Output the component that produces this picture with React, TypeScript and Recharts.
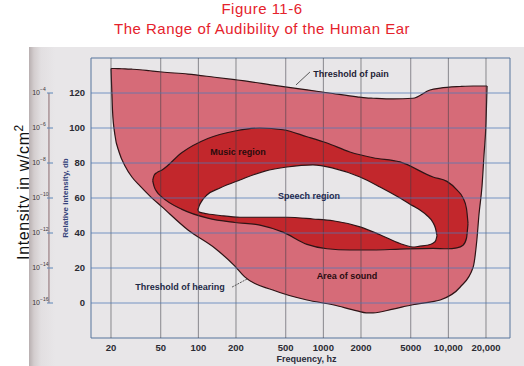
import React from 'react';
import { ComposedChart, Area, XAxis, YAxis, ReferenceLine, ReferenceArea, ReferenceDot } from 'recharts';

// axis ticks
const freqTicks = [20, 50, 100, 200, 500, 1000, 2000, 5000, 10000, 20000];
const dbTicks = [0, 20, 40, 60, 80, 100, 120];
const intensityExp = [-16, -14, -12, -10, -8, -6, -4];

// area of sound: threshold of hearing (low) .. threshold of pain (high)
const soundFreq = [20, 20.56, 21.5, 23.2, 25.9, 29.4, 34.1, 41, 51.2, 82.6, 135, 196, 235, 394, 740, 1190, 1860, 2200, 2500, 3600, 5200, 7130, 8600, 12400, 15800, 16900, 17600, 18600, 19300, 20000, 20400];
const painDb = [134, 134, 134, 133.9, 133.8, 133.6, 133.3, 132.7, 132, 130.8, 129, 127.6, 126.9, 124.5, 121.8, 119.7, 117.8, 117.2, 117, 116.6, 117, 121.7, 122.8, 123.7, 124, 124, 124, 124, 124, 124, 124];
const hearingDb = [134, 110.3, 96, 86.3, 78.3, 72, 66.9, 61.1, 54.9, 41.7, 31.4, 21.1, 14.9, 7.4, 1.7, -1, -4.5, -5.6, -5.6, -3.5, -1, 0.5, 1.7, 9, 20.6, 36, 51, 67, 85, 103, 124];

// music region
const musicFreq = [43.1, 44.3, 46.6, 51.2, 74, 119, 196, 311, 475, 740, 1070, 1630, 2500, 4100, 7530, 9750, 11700, 13100, 13960, 14360];
const musicHigh = [70, 73, 74.5, 76, 86, 94, 98.3, 100, 99, 95, 91.4, 86.3, 83, 80.6, 72, 69.5, 64.6, 60, 54, 45.5];
const musicLow = [70, 66.5, 63.5, 60.5, 53.5, 48.5, 46, 44.5, 40.5, 33.5, 31, 30.3, 30.3, 30.8, 31.2, 31, 31.5, 33, 37, 45.5];

// speech region
const speechFreq = [99, 101.5, 107, 117, 149, 215, 341, 512, 826, 1194, 1964, 2838, 4103, 5210, 5930, 6745, 7530, 7900, 8110];
const speechHigh = [53, 55.5, 58.5, 61.7, 65.7, 70.3, 75.4, 77.7, 78.9, 77.1, 72, 66.3, 60, 55.5, 53.1, 50, 46, 42.5, 38.5];
const speechLow = [53, 52, 51.5, 51, 50, 49, 49, 49, 48, 47, 43.5, 39, 34, 32, 32.5, 33, 34.2, 35.5, 38.5];

const toRange = (freq: number[], low: number[], high: number[]) =>
    freq.map((f, i) => ({ f, range: [low[i], high[i]] }));

const soundData = toRange(soundFreq, hearingDb, painDb);
const musicData = toRange(musicFreq, musicLow, musicHigh);
const speechData = toRange(speechFreq, speechLow, speechHigh);

const SANS = '"Liberation Sans", Arial, sans-serif';
const PAPER = '#e8e6e8';
const EDGE = '#2e1416';

const formatFreq = (v: number) => (v >= 10000 ? v.toLocaleString('en-US') : String(v));

const IntensityTick = (props: any) => {
    const { x, y, payload } = props;
    const exp = intensityExp[dbTicks.indexOf(payload.value)];
    return (
        <g>
            <text x={x - 6} y={y + 2} textAnchor="end" fontSize={7} fontFamily={SANS} fill="#3a3434">
                10
            </text>
            <text x={x - 6} y={y - 2} textAnchor="start" fontSize={5} fontFamily={SANS} fill="#3a3434">
                −{Math.abs(exp)}
            </text>
            <line x1={x + 1} x2={x + 7} y1={y} y2={y} stroke="#5c86b8" strokeWidth={1} />
        </g>
    );
};

const note = (fill: string) => ({ fill, fontSize: 9, fontWeight: 700, fontFamily: SANS });

export default function App() {
    return (
        <div style={{ position: 'absolute', left: 0, top: 0, width: 524, height: 366, background: '#fff', overflow: 'hidden' }}>
            <div style={{ position: 'absolute', left: 0, top: 1, width: 524, textAlign: 'center', color: '#e5222c', fontFamily: SANS, fontSize: 15, lineHeight: '15px', letterSpacing: 0.5 }}>
                Figure 11-6
            </div>
            <div style={{ position: 'absolute', left: 0, top: 21, width: 524, textAlign: 'center', color: '#e5222c', fontFamily: SANS, fontSize: 15, lineHeight: '15px', letterSpacing: 0.5 }}>
                The Range of Audibility of the Human Ear
            </div>
            <div style={{ position: 'absolute', left: -81, top: 182, width: 200, height: 20, lineHeight: '20px', textAlign: 'center', transform: 'rotate(-90deg)', fontFamily: SANS, fontSize: 16, letterSpacing: 0.6, color: '#111' }}>
                Intensity in w/cm<sup style={{ fontSize: 12 }}>2</sup>
            </div>
            <div style={{ position: 'absolute', left: 29, top: 47, width: 495, height: 319, background: `linear-gradient(to right, #b8afb0 0px, #d3cdce 5px, #e2dfe1 12px, ${PAPER} 26px)` }} />
            <ComposedChart
                width={524}
                height={366}
                margin={{ top: 58, right: 14, bottom: 10, left: 19 }}
                style={{ position: 'absolute', left: 0, top: 0 }}
            >
                <XAxis
                    dataKey="f"
                    type="number"
                    scale="log"
                    domain={[13.84, 31120]}
                    allowDataOverflow
                    ticks={freqTicks}
                    interval={0}
                    tickFormatter={formatFreq}
                    axisLine={false}
                    tickLine={false}
                    tickSize={4}
                    tickMargin={2}
                    height={18}
                    tick={{ fontSize: 9.5, fontWeight: 700, fontFamily: SANS, fill: '#2b2b33' }}
                    label={{ value: 'Frequency, hz', position: 'bottom', offset: 0, dx: 6, ...note('#2b2b3a') }}
                />
                <YAxis
                    yAxisId="w"
                    orientation="left"
                    type="number"
                    domain={[-20, 140]}
                    allowDataOverflow
                    ticks={dbTicks}
                    interval={0}
                    width={30}
                    axisLine={false}
                    tickLine={false}
                    tickSize={0}
                    tickMargin={3}
                    tick={<IntensityTick />}
                />
                <YAxis
                    type="number"
                    domain={[-20, 140]}
                    allowDataOverflow
                    ticks={dbTicks}
                    interval={0}
                    width={42}
                    axisLine={false}
                    tickLine={false}
                    tickSize={4}
                    tickMargin={2}
                    tick={{ fontSize: 9.5, fontWeight: 700, fontFamily: SANS, fill: '#2b2b33' }}
                    label={{ value: 'Relative intensity, db', angle: -90, position: 'insideLeft', offset: 16, style: { textAnchor: 'middle' }, fill: '#34437a', fontSize: 8, fontWeight: 700, fontFamily: SANS }}
                />

                <Area data={soundData} dataKey="range" type="monotone" fill="#d66b78" fillOpacity={1} stroke={EDGE} strokeWidth={1.2} dot={false} activeDot={false} isAnimationActive={false} />
                <Area data={musicData} dataKey="range" type="monotone" fill="#c2272c" fillOpacity={1} stroke={EDGE} strokeWidth={1.2} dot={false} activeDot={false} isAnimationActive={false} />
                <Area data={speechData} dataKey="range" type="monotone" fill={PAPER} fillOpacity={1} stroke={EDGE} strokeWidth={1.2} dot={false} activeDot={false} isAnimationActive={false} />

                {freqTicks.map(f => (
                    <ReferenceLine key={`v${f}`} x={f} stroke="#3c3c44" strokeWidth={0.8} strokeOpacity={0.7} />
                ))}
                {dbTicks.map(v => (
                    <ReferenceLine key={`h${v}`} y={v} stroke="#4f78b5" strokeWidth={1} strokeOpacity={0.75} />
                ))}
                <ReferenceArea x1={13.84} x2={31120} y1={-20} y2={140} ifOverflow="visible" fill="none" stroke="#56759c" strokeWidth={1} />
                <ReferenceLine segment={[{ x: 6.38, y: 0 }, { x: 6.38, y: 120 }]} ifOverflow="visible" stroke="#8a6a6e" strokeWidth={1} />

                <ReferenceLine segment={[{ x: 781, y: 132 }, { x: 604, y: 124.6 }]} stroke="#333" strokeWidth={0.8} />
                <ReferenceLine segment={[{ x: 186, y: 9.1 }, { x: 245, y: 13.7 }]} stroke="#333" strokeWidth={0.8} strokeDasharray="2 1" />

                <ReferenceDot x={1663} y={130.9} r={0} fill="none" stroke="none" label={{ value: 'Threshold of pain', position: 'center', ...note('#1e2235') }} />
                <ReferenceDot x={208} y={86.3} r={0} fill="none" stroke="none" label={{ value: 'Music region', position: 'center', ...note('#2a0c0c') }} />
                <ReferenceDot x={767} y={61.1} r={0} fill="none" stroke="none" label={{ value: 'Speech region', position: 'center', ...note('#1e2a50') }} />
                <ReferenceDot x={1545} y={15.4} r={0} fill="none" stroke="none" label={{ value: 'Area of sound', position: 'center', ...note('#2a0c10') }} />
                <ReferenceDot x={71.3} y={9.1} r={0} fill="none" stroke="none" label={{ value: 'Threshold of hearing', position: 'center', ...note('#1e2a45') }} />
            </ComposedChart>
        </div>
    );
}
